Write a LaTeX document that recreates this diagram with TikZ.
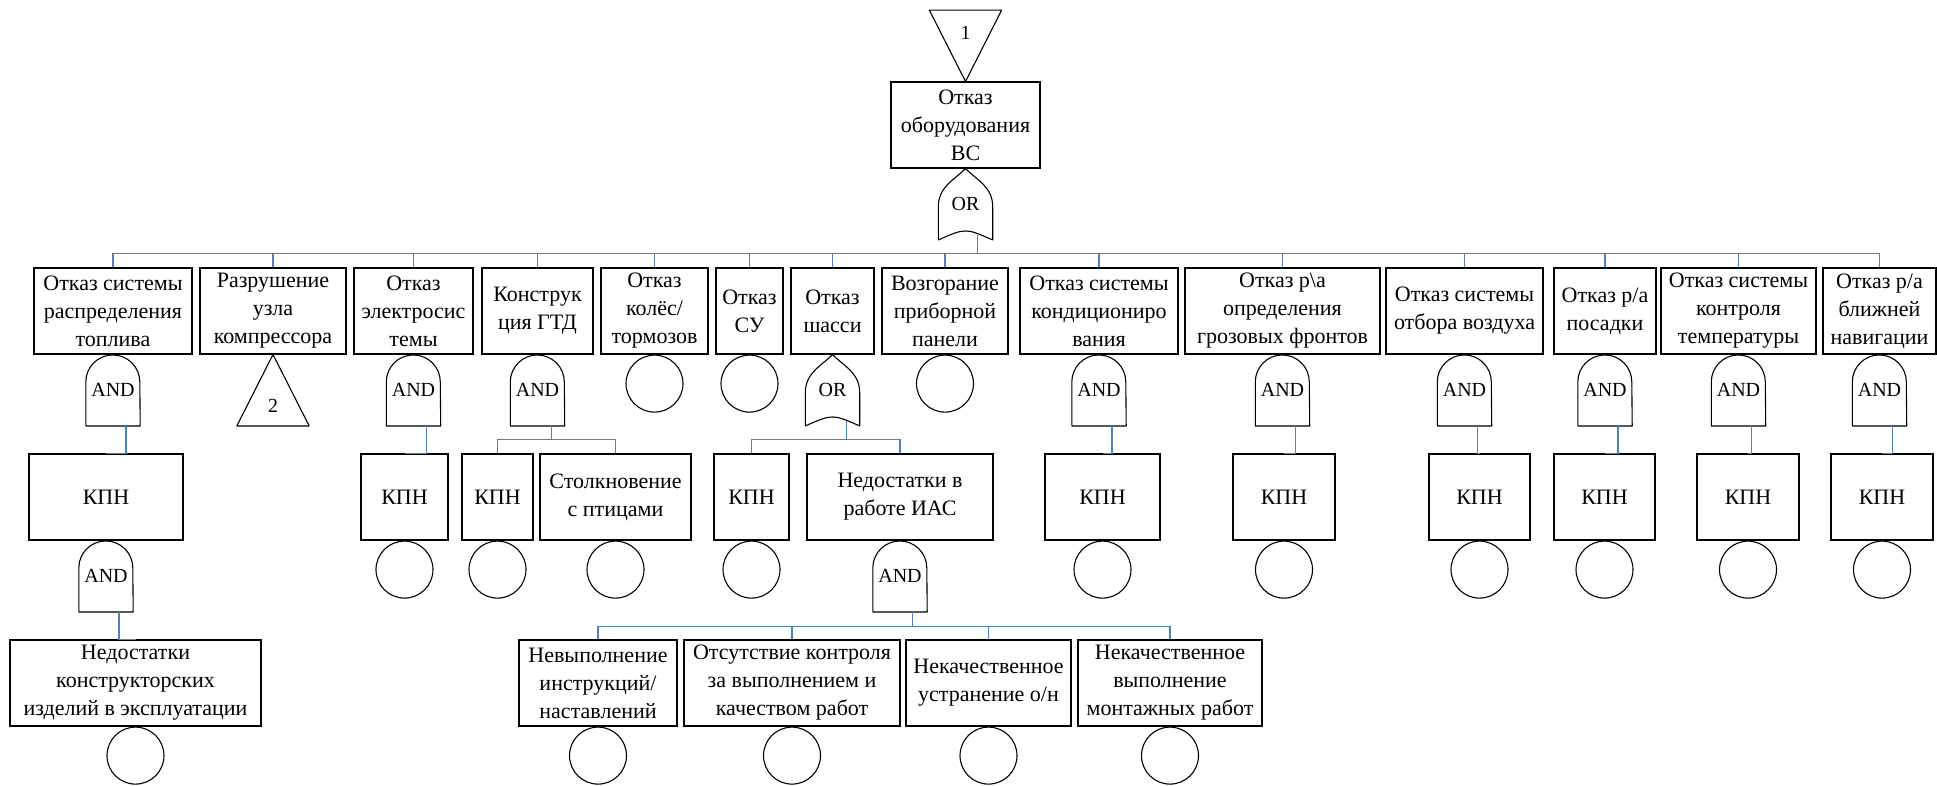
\documentclass[tikz,border=0pt]{standalone}
\usepackage{fontspec}
\setmainfont{Liberation Serif}
\usetikzlibrary{calc}
\definecolor{linkblue}{RGB}{79,129,189}
\begin{document}
\begin{tikzpicture}[x=1pt,y=-1pt,
  evbox/.style={draw, line width=1.1pt, align=center, inner sep=0pt,
    minimum height=86pt, font=\fontsize{22}{28}\selectfont},
  gate/.style={inner sep=0pt, minimum width=54pt, minimum height=71pt,
    anchor=north, font=\fontsize{20}{24}\selectfont},
  basic/.style={draw, circle, line width=1.1pt, inner sep=0pt,
    minimum size=57pt, anchor=north},
  outline/.style={draw, line width=1.1pt, line join=round},
  conn/.style={draw=linkblue, line width=1.2pt},
  tri/.style={inner sep=0pt, minimum width=72pt, minimum height=71pt},
  trinum/.style={font=\fontsize{20}{24}\selectfont}
]
\useasboundingbox (0,0) rectangle (1937,785);

% top event
\node[evbox, minimum width=149pt] (b0) at (965.5,125) {Отказ\\оборудования\\ВС};
\node[tri, anchor=south] (t1) at (b0.north) {};
\node[trinum] (t1num) at (965.5,33) {1};
\node[gate] (orT) at (b0.south) {OR};

% first level events
\node[evbox, minimum width=158pt] (b1)  at (113,311)    {Отказ системы\\распределения\\топлива};
\node[evbox, minimum width=146pt] (b2)  at (273,311)    {Разрушение\\узла\\компрессора};
\node[evbox, minimum width=119pt] (b3)  at (413.5,311)  {Отказ\\электросис\\темы};
\node[evbox, minimum width=111pt] (b4)  at (537.5,311)  {Конструк\\ция ГТД};
\node[evbox, minimum width=107pt] (b5)  at (654.5,311)  {Отказ\\колёс/\\тормозов};
\node[evbox, minimum width=67pt]  (b6)  at (749.5,311)  {Отказ\\СУ};
\node[evbox, minimum width=83pt]  (b7)  at (832.5,311)  {Отказ\\шасси};
\node[evbox, minimum width=126pt] (b8)  at (945,311)    {Возгорание\\приборной\\панели};
\node[evbox, minimum width=158pt] (b9)  at (1099,311)   {Отказ системы\\кондициониро\\вания};
\node[evbox, minimum width=195pt] (b10) at (1282.5,311) {Отказ р\textbackslash а\\определения\\грозовых фронтов};
\node[evbox, minimum width=157pt] (b11) at (1464.5,311) {Отказ системы\\отбора воздуха};
\node[evbox, minimum width=102pt] (b12) at (1605,311)   {Отказ р/а\\посадки};
\node[evbox, minimum width=155pt] (b13) at (1738.5,311) {Отказ системы\\контроля\\температуры};
\node[evbox, minimum width=113pt] (b14) at (1879.5,311) {Отказ р/а\\ближней\\навигации};

% gates, transfer and basic events under the first level
\node[gate] (g1)  at (b1.south)  {AND};
\node[tri, anchor=north] (t2) at (b2.south) {};
\node[trinum] (t2num) at (273,406) {2};
\node[gate] (g3)  at (b3.south)  {AND};
\node[gate] (g4)  at (b4.south)  {AND};
\node[basic] (e5) at (b5.south)  {};
\node[basic] (e6) at (b6.south)  {};
\node[gate] (g7)  at (b7.south)  {OR};
\node[basic] (e8) at (b8.south)  {};
\node[gate] (g9)  at (b9.south)  {AND};
\node[gate] (g10) at (b10.south) {AND};
\node[gate] (g11) at (b11.south) {AND};
\node[gate] (g12) at (b12.south) {AND};
\node[gate] (g13) at (b13.south) {AND};
\node[gate] (g14) at (b14.south) {AND};

% second level events
\node[evbox, minimum width=154pt] (k1)  at (106,497)    {КПН};
\node[evbox, minimum width=87pt]  (k3)  at (404.5,497)  {КПН};
\node[evbox, minimum width=71pt]  (k4a) at (497.5,497)  {КПН};
\node[evbox, minimum width=151pt] (k4b) at (615.5,497)  {Столкновение\\с птицами};
\node[evbox, minimum width=75pt]  (k7a) at (751.5,497)  {КПН};
\node[evbox, minimum width=186pt] (k7b) at (900,497)    {Недостатки в\\работе ИАС};
\node[evbox, minimum width=115pt] (k9)  at (1102.5,497) {КПН};
\node[evbox, minimum width=102pt] (k10) at (1284,497)   {КПН};
\node[evbox, minimum width=101pt] (k11) at (1479.5,497) {КПН};
\node[evbox, minimum width=101pt] (k12) at (1604.5,497) {КПН};
\node[evbox, minimum width=102pt] (k13) at (1748,497)   {КПН};
\node[evbox, minimum width=102pt] (k14) at (1882,497)   {КПН};

\node[gate] (g1b)  at (k1.south)  {AND};
\node[basic] (e3)  at (k3.south)  {};
\node[basic] (e4a) at (k4a.south) {};
\node[basic] (e4b) at (k4b.south) {};
\node[basic] (e7a) at (k7a.south) {};
\node[gate] (gI)   at (k7b.south) {AND};
\node[basic] (e9)  at (k9.south)  {};
\node[basic] (e10) at (k10.south) {};
\node[basic] (e11) at (k11.south) {};
\node[basic] (e12) at (k12.south) {};
\node[basic] (e13) at (k13.south) {};
\node[basic] (e14) at (k14.south) {};

% third level events
\node[evbox, minimum width=251pt] (d1) at (135.5,683) {Недостатки\\конструкторских\\изделий в эксплуатации};
\node[evbox, minimum width=158pt] (c1) at (598,683)   {Невыполнение\\инструкций/\\наставлений};
\node[evbox, minimum width=216pt] (c2) at (792,683)   {Отсутствие контроля\\за выполнением и\\качеством работ};
\node[evbox, minimum width=165pt] (c3) at (988.5,683) {Некачественное\\устранение о/н};
\node[evbox, minimum width=184pt] (c4) at (1170,683)  {Некачественное\\выполнение\\монтажных работ};

\node[basic] (ed1) at (d1.south) {};
\node[basic] (ec1) at (c1.south) {};
\node[basic] (ec2) at (c2.south) {};
\node[basic] (ec3) at (c3.south) {};
\node[basic] (ec4) at (c4.south) {};

% gate outlines
\foreach \g in {g1,g3,g4,g9,g10,g11,g12,g13,g14,g1b,gI}
  \draw[outline] (\g.south west) -- ([yshift=44pt]\g.south west)
    arc[start angle=180, end angle=0, radius=27pt] -- (\g.south east) -- cycle;
\foreach \g in {orT,g7}
  \draw[outline] (\g.south west) -- ([yshift=33pt]\g.south west)
    .. controls +(0pt,20pt) and +(-12pt,-12pt) .. (\g.north)
    .. controls +(12pt,-12pt) and +(0pt,20pt) .. ([yshift=33pt]\g.south east)
    -- (\g.south east) .. controls ([yshift=12pt]\g.south) .. (\g.south west) -- cycle;

% transfer triangles
\draw[outline] (t1.north west) -- (t1.north east) -- (t1.south) -- cycle;
\draw[outline] (t2.north) -- (t2.south east) -- (t2.south west) -- cycle;

% connectors
\foreach \c in {b1,b2,b3,b4,b5,b6,b7,b8,b9,b10,b11,b12,b13,b14}
  \draw[conn] ([xshift=12pt,yshift=5pt]orT.south) |- ($(\c.north)+(0pt,14pt)$) -- (\c.north);
\foreach \g/\k in {g1/k1,g3/k3,g9/k9,g10/k10,g11/k11,g12/k12,g13/k13,g14/k14,g1b/d1}
  \draw[conn] ([xshift=13pt]\g.south) |- (\k.north);
\foreach \k in {k4a,k4b}
  \draw[conn] ([xshift=14pt]g4.south) |- ($(\k.north)+(0pt,14pt)$) -- (\k.north);
\foreach \k in {k7a,k7b}
  \draw[conn] ([xshift=14pt,yshift=5pt]g7.south) |- ($(\k.north)+(0pt,14pt)$) -- (\k.north);
\foreach \k in {c1,c2,c3,c4}
  \draw[conn] ([xshift=12.5pt]gI.south) |- ($(\k.north)+(0pt,13pt)$) -- (\k.north);
\end{tikzpicture}
\end{document}
